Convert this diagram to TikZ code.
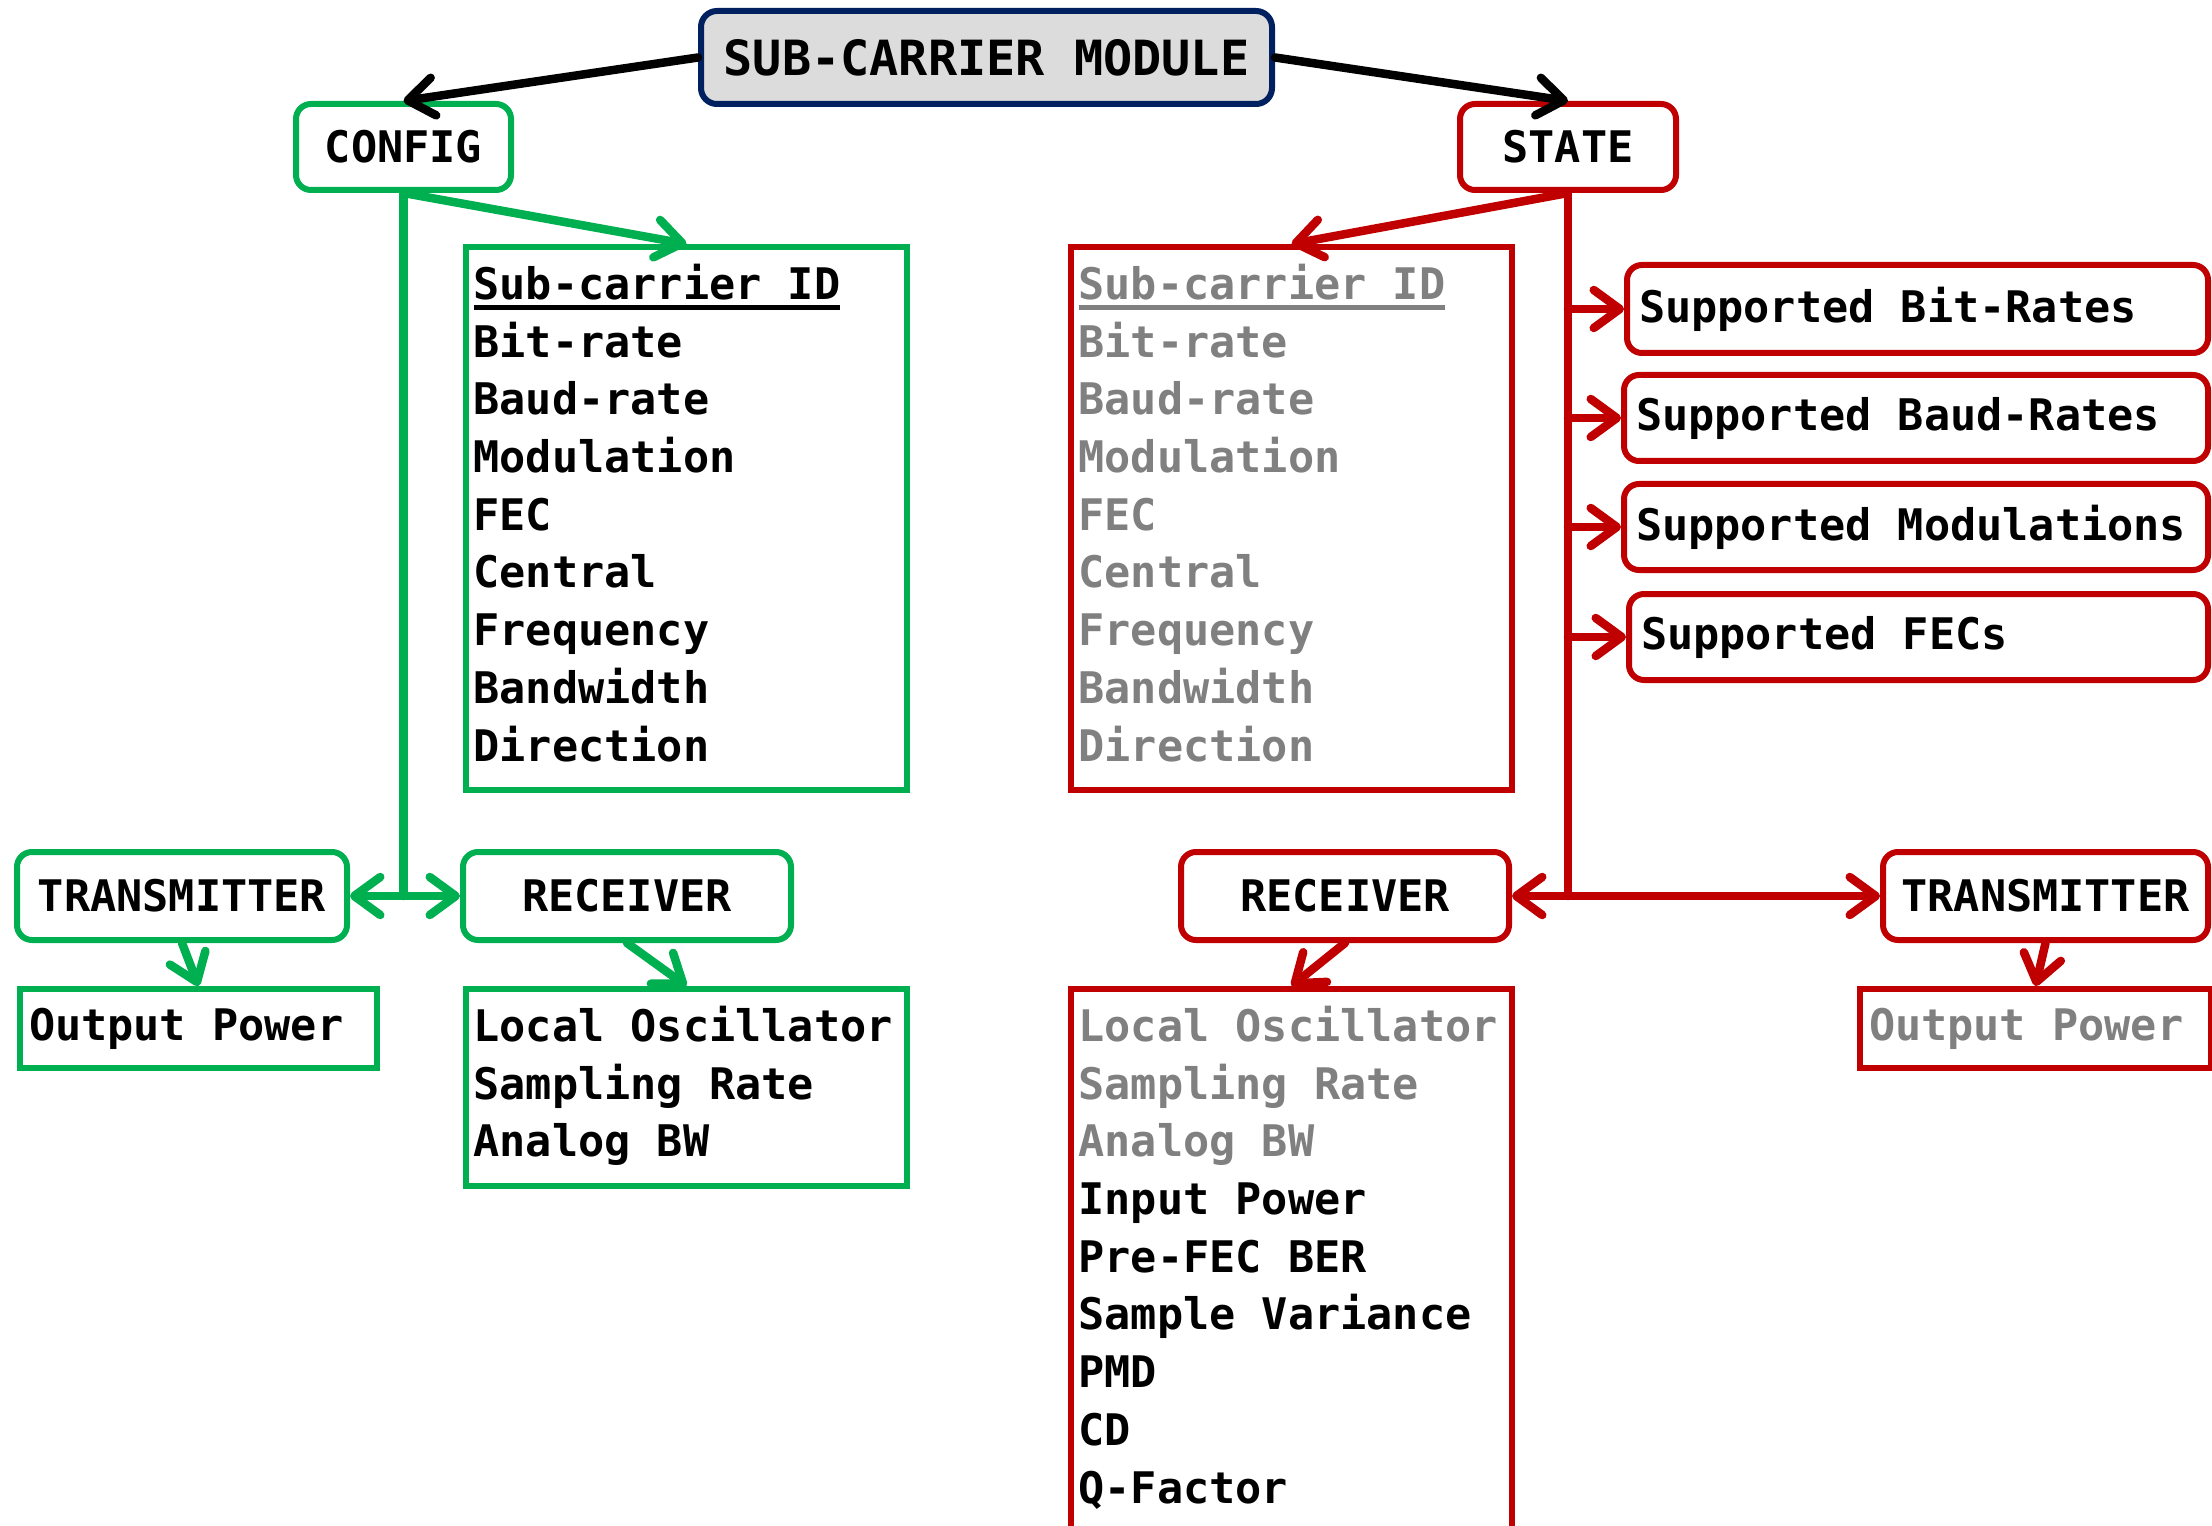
\documentclass[tikz,border=0pt]{standalone}
\usepackage{fontspec}
\usetikzlibrary{arrows.meta}
\newfontfamily\dmono{DejaVu Sans Mono}[WordSpace={1,0,0}]
\definecolor{cfggreen}{HTML}{00B050}
\definecolor{stred}{HTML}{C00000}
\definecolor{navyedge}{HTML}{002060}
\definecolor{headfill}{HTML}{DCDCDC}
\definecolor{dimtext}{HTML}{808080}
\newcommand\listfont{\dmono\bfseries\fontsize{12.38pt}{16.42pt}\selectfont}
\newcommand\headfont{\dmono\bfseries\fontsize{13.8pt}{16pt}\selectfont}
% keep interword spaces at the full monospaced width
\newcommand\fixspace{\spaceskip=\fontdimen2\font\relax\xspaceskip=\fontdimen2\font\relax}
% heavy underline in the current text colour
\newcommand\ulx[1]{\setbox0\hbox{#1}\rlap{\rule[-3pt]{\wd0}{1.5pt}}\box0}
\begin{document}
\begin{tikzpicture}[x=0.1mm, y=-0.1mm,
  tag/.style={draw, rounded corners=1.5mm, line width=0.6mm, font=\listfont,
    align=center, inner sep=0pt, fill=white},
  supbox/.style={draw, rounded corners=1.5mm, line width=0.6mm, font=\listfont,
    inner xsep=1.2mm, inner ysep=0pt, fill=white,
    execute at begin node=\fixspace},
  leftbox/.style={draw, line width=0.6mm, font=\listfont, inner ysep=0pt,
    execute at begin node=\fixspace},
  listbox/.style={draw, line width=0.6mm, font=\listfont,
    anchor=north west, inner xsep=0.75mm, inner ysep=1.2mm, text width=42.6mm,
    execute at begin node={\fixspace\strut}, execute at end node=\strut},
  link/.style={line width=0.85mm, line cap=round},
  arr/.style={link, -{Straight Barb[length=2.6mm, width=3.8mm, round]}},
]
\useasboundingbox (0,0) rectangle (2212,1526);

% root
\node[draw=navyedge, fill=headfill, rounded corners=1.6mm, line width=0.6mm,
  font=\headfont, minimum width=57.1mm, minimum height=9.3mm, inner sep=0pt]
  (top) at (986.5,57.5) {SUB-CARRIER MODULE};

% CONFIG branch
\node[tag, draw=cfggreen, minimum width=21.5mm, minimum height=8.6mm]
  (config) at (403.5,147) {CONFIG};
\node[listbox, draw=cfggreen] (cfglist) at (463,244)
  {\ulx{Sub-carrier ID}\\Bit-rate\\Baud-rate\\Modulation\\FEC\\Central\\Frequency\\Bandwidth\\Direction};
\node[tag, draw=cfggreen, minimum width=33mm, minimum height=8.8mm]
  (gtx) at (182,896) {TRANSMITTER};
\node[tag, draw=cfggreen, minimum width=32.8mm, minimum height=8.8mm]
  (grx) at (627,896) {RECEIVER};
\node[leftbox, draw=cfggreen, anchor=north west, inner xsep=0.9mm,
  text width=33.9mm, minimum height=7.9mm] (gop) at (17,986) {Output Power};
\node[listbox, draw=cfggreen] (glo) at (463,986)
  {Local Oscillator\\Sampling Rate\\Analog BW};

% STATE branch
\node[tag, draw=stred, minimum width=21.6mm, minimum height=8.6mm]
  (state) at (1568,147) {STATE};
\node[listbox, draw=stred, text=dimtext] (stlist) at (1068,244)
  {\ulx{Sub-carrier ID}\\Bit-rate\\Baud-rate\\Modulation\\FEC\\Central\\Frequency\\Bandwidth\\Direction};
\node[supbox, draw=stred, text width=55.7mm, minimum height=8.8mm]
  (sup1) at (1917.5,309) {Supported Bit-Rates};
\node[supbox, draw=stred, text width=56mm, minimum height=8.6mm]
  (sup2) at (1916,418) {Supported Baud-Rates};
\node[supbox, draw=stred, text width=56mm, minimum height=8.6mm]
  (sup3) at (1916,527) {Supported Modulations};
\node[supbox, draw=stred, text width=55.5mm, minimum height=8.6mm]
  (sup4) at (1918.5,637) {Supported FECs};
\node[tag, draw=stred, minimum width=32.8mm, minimum height=8.8mm]
  (rrx) at (1345,896) {RECEIVER};
\node[tag, draw=stred, minimum width=32.5mm, minimum height=8.8mm]
  (rtx) at (2045.5,896) {TRANSMITTER};
\node[listbox, draw=stred] (rlist) at (1068,986)
  {\textcolor{dimtext}{Local Oscillator}\\\textcolor{dimtext}{Sampling Rate}\\\textcolor{dimtext}{Analog BW}\\Input Power\\Pre-FEC BER\\Sample Variance\\PMD\\CD\\Q-Factor};
\node[leftbox, draw=stred, text=dimtext, anchor=north west, inner xsep=0.9mm,
  text width=33.3mm, minimum height=7.9mm] (rop) at (1857,986) {Output Power};

% connectors from the root
\draw[arr] (top.west) -- (config.north);
\draw[arr] (top.east) -- (state.north);

% configuration connectors
\coordinate (gj) at (config.south |- gtx.east);
\draw[arr, draw=cfggreen] (config.south) -- (cfglist.north);
\draw[link, draw=cfggreen] (config.south) -- (gj);
\draw[arr, draw=cfggreen] (gj) -- (gtx.east);
\draw[arr, draw=cfggreen] (gj) -- (grx.west);
\draw[arr, draw=cfggreen] (gtx.south) -- (gop.north);
\draw[arr, draw=cfggreen] (grx.south) -- (glo.north);

% state connectors
\coordinate (rj) at (state.south |- rrx.east);
\draw[arr, draw=stred] (state.south) -- (stlist.north);
\draw[link, draw=stred] (state.south) -- (rj);
\foreach \s in {sup1,sup2,sup3,sup4}
  \draw[arr, draw=stred] (\s.west -| state.south) -- (\s.west);
\draw[arr, draw=stred] (rj) -- (rrx.east);
\draw[arr, draw=stred] (rj) -- (rtx.west);
\draw[arr, draw=stred] (rrx.south) -- (rlist.north);
\draw[arr, draw=stred] (rtx.south) -- (rop.north);
\end{tikzpicture}
\end{document}
